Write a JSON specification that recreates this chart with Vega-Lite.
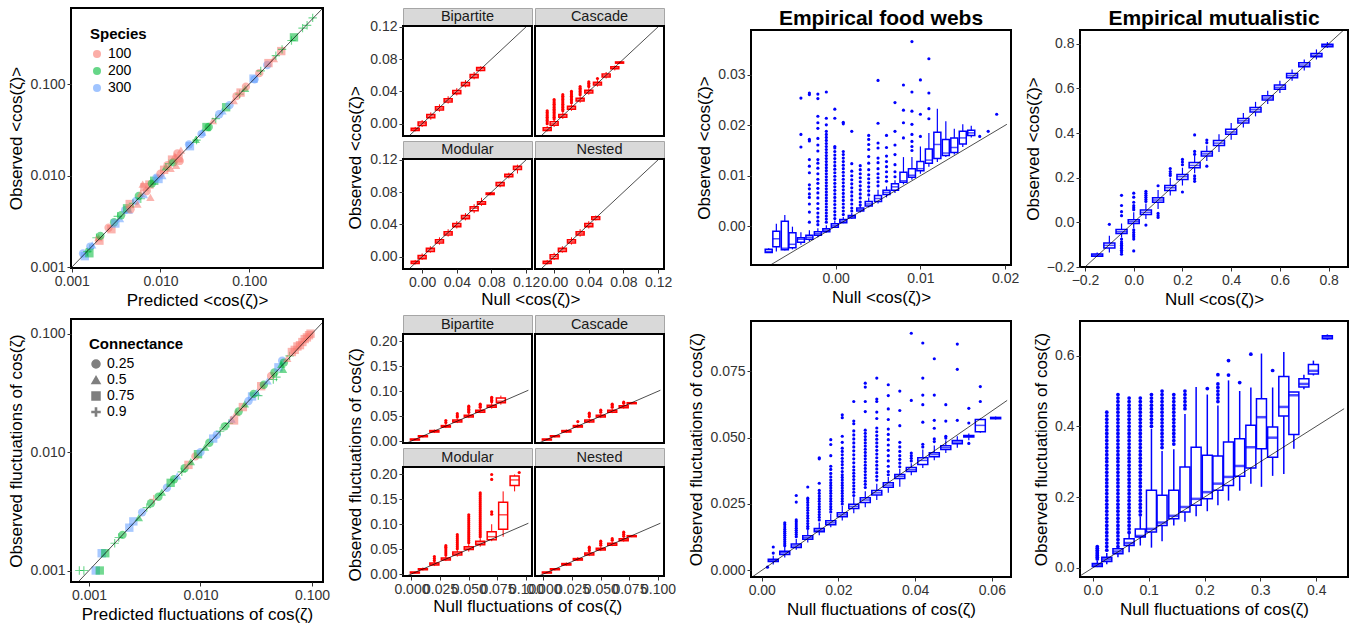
{
"$schema":"https://vega.github.io/schema/vega-lite/v6.json",
"background":"white",
"padding":{"left":6,"top":7,"right":2,"bottom":1},
"config":{
 "font":"Liberation Sans",
 "view":{"stroke":"black","strokeWidth":2},
 "axis":{"domain":false,"grid":false,"ticks":true,"tickColor":"#333333","tickSize":4,"tickWidth":1,"labelFontSize":14,"labelColor":"#333333","labelPadding":2,"titleFontSize":17,"titleFontWeight":"normal","titleColor":"black","titlePadding":4,"labelFlush":false,"labelOverlap":false,"labelBound":false},
 "legend":{"labelFontSize":14,"titleFontSize":15,"titleFontWeight":"bold","labelColor":"black","titleColor":"black"},
 "title":{"fontSize":21,"fontWeight":"bold","color":"black"}
},
"datasets":{
"diag":[{"g":"A","x":0.0009,"y":0.0009},{"g":"A","x":0.7,"y":0.7},{"g":"B","x":0.0006,"y":0.0006},{"g":"B","x":0.14,"y":0.14},{"g":"fT","x":-0.02,"y":-0.02},{"g":"fT","x":0.125,"y":0.125},{"g":"fB","x":-0.006,"y":-0.006},{"g":"fB","x":0.102,"y":0.102},{"g":"eT","x":-0.0095,"y":-0.0095},{"g":"eT","x":0.0202,"y":0.0202},{"g":"eB","x":-0.003,"y":-0.003},{"g":"eB","x":0.064,"y":0.064},{"g":"mT","x":-0.2,"y":-0.2},{"g":"mT","x":0.86,"y":0.86},{"g":"mB","x":-0.03,"y":-0.03},{"g":"mB","x":0.45,"y":0.45}],
"sA":[
{"x":0.00134,"y":0.00141,"s":"300","c":"0.25"},{"x":0.0014,"y":0.00132,"s":"300","c":"0.75"},{"x":0.0015,"y":0.00148,"s":"200","c":"0.9"},{"x":0.0016,"y":0.0016,"s":"200","c":"0.9"},{"x":0.00162,"y":0.00168,"s":"300","c":"0.25"},{"x":0.00158,"y":0.00142,"s":"200","c":"0.75"},{"x":0.0017,"y":0.00175,"s":"300","c":"0.5"},{"x":0.0019,"y":0.0021,"s":"200","c":"0.9"},{"x":0.002,"y":0.0021,"s":"100","c":"0.5"},{"x":0.00205,"y":0.00195,"s":"100","c":"0.75"},{"x":0.0021,"y":0.0022,"s":"200","c":"0.25"},{"x":0.0026,"y":0.0027,"s":"100","c":"0.25"},{"x":0.0028,"y":0.0026,"s":"100","c":"0.75"},{"x":0.003,"y":0.0031,"s":"200","c":"0.25"},{"x":0.0031,"y":0.003,"s":"300","c":"0.75"},{"x":0.0033,"y":0.0036,"s":"200","c":"0.9"},{"x":0.0035,"y":0.0034,"s":"300","c":"0.5"},{"x":0.0036,"y":0.0037,"s":"200","c":"0.25"},{"x":0.004,"y":0.0042,"s":"300","c":"0.25"},{"x":0.0042,"y":0.0044,"s":"200","c":"0.75"},{"x":0.0044,"y":0.0042,"s":"300","c":"0.5"},{"x":0.0046,"y":0.0043,"s":"100","c":"0.25"},{"x":0.0045,"y":0.0049,"s":"100","c":"0.75"},{"x":0.0049,"y":0.005,"s":"200","c":"0.9"},{"x":0.0053,"y":0.0053,"s":"300","c":"0.25"},{"x":0.0055,"y":0.0049,"s":"100","c":"0.5"},{"x":0.0057,"y":0.006,"s":"200","c":"0.25"},{"x":0.006,"y":0.0064,"s":"100","c":"0.5"},{"x":0.0063,"y":0.0081,"s":"100","c":"0.5"},{"x":0.0066,"y":0.0075,"s":"100","c":"0.75"},{"x":0.006,"y":0.0056,"s":"200","c":"0.9"},{"x":0.0065,"y":0.0062,"s":"300","c":"0.5"},{"x":0.007,"y":0.0068,"s":"100","c":"0.25"},{"x":0.0077,"y":0.0058,"s":"100","c":"0.5"},{"x":0.0075,"y":0.008,"s":"100","c":"0.75"},{"x":0.008,"y":0.0082,"s":"200","c":"0.25"},{"x":0.0085,"y":0.0088,"s":"200","c":"0.75"},{"x":0.009,"y":0.0095,"s":"300","c":"0.25"},{"x":0.0095,"y":0.0092,"s":"300","c":"0.75"},{"x":0.01,"y":0.0105,"s":"100","c":"0.25"},{"x":0.0105,"y":0.01,"s":"300","c":"0.5"},{"x":0.011,"y":0.0116,"s":"100","c":"0.75"},{"x":0.0115,"y":0.0125,"s":"200","c":"0.5"},{"x":0.012,"y":0.013,"s":"100","c":"0.25"},{"x":0.0125,"y":0.0135,"s":"200","c":"0.9"},{"x":0.013,"y":0.012,"s":"100","c":"0.5"},{"x":0.0135,"y":0.015,"s":"100","c":"0.75"},{"x":0.014,"y":0.014,"s":"200","c":"0.25"},{"x":0.0145,"y":0.0165,"s":"100","c":"0.5"},{"x":0.0155,"y":0.0175,"s":"100","c":"0.25"},{"x":0.016,"y":0.0155,"s":"100","c":"0.75"},{"x":0.015,"y":0.013,"s":"100","c":"0.5"},{"x":0.017,"y":0.019,"s":"100","c":"0.5"},{"x":0.0165,"y":0.0145,"s":"100","c":"0.25"},{"x":0.021,"y":0.022,"s":"300","c":"0.25"},{"x":0.0215,"y":0.021,"s":"300","c":"0.75"},{"x":0.025,"y":0.025,"s":"200","c":"0.5"},{"x":0.0255,"y":0.0245,"s":"200","c":"0.9"},{"x":0.029,"y":0.0285,"s":"300","c":"0.25"},{"x":0.0295,"y":0.03,"s":"300","c":"0.5"},{"x":0.033,"y":0.034,"s":"200","c":"0.75"},{"x":0.035,"y":0.034,"s":"200","c":"0.25"},{"x":0.039,"y":0.04,"s":"100","c":"0.5"},{"x":0.042,"y":0.042,"s":"200","c":"0.9"},{"x":0.046,"y":0.047,"s":"300","c":"0.25"},{"x":0.05,"y":0.051,"s":"300","c":"0.5"},{"x":0.055,"y":0.056,"s":"200","c":"0.75"},{"x":0.06,"y":0.059,"s":"300","c":"0.25"},{"x":0.067,"y":0.066,"s":"100","c":"0.5"},{"x":0.072,"y":0.074,"s":"100","c":"0.25"},{"x":0.078,"y":0.078,"s":"200","c":"0.9"},{"x":0.08,"y":0.081,"s":"100","c":"0.75"},{"x":0.09,"y":0.09,"s":"200","c":"0.5"},{"x":0.092,"y":0.094,"s":"100","c":"0.25"},{"x":0.112,"y":0.115,"s":"300","c":"0.75"},{"x":0.115,"y":0.113,"s":"300","c":"0.25"},{"x":0.13,"y":0.132,"s":"100","c":"0.25"},{"x":0.135,"y":0.14,"s":"200","c":"0.9"},{"x":0.16,"y":0.162,"s":"300","c":"0.25"},{"x":0.165,"y":0.17,"s":"100","c":"0.75"},{"x":0.19,"y":0.19,"s":"100","c":"0.5"},{"x":0.2,"y":0.205,"s":"200","c":"0.9"},{"x":0.23,"y":0.23,"s":"100","c":"0.75"},{"x":0.235,"y":0.24,"s":"200","c":"0.9"},{"x":0.3,"y":0.3,"s":"200","c":"0.9"},{"x":0.32,"y":0.325,"s":"200","c":"0.75"},{"x":0.4,"y":0.41,"s":"200","c":"0.9"},{"x":0.45,"y":0.44,"s":"200","c":"0.9"},{"x":0.52,"y":0.53,"s":"200","c":"0.9"}],
"sB":[
{"x":0.00082,"y":0.001,"s":"200","c":"0.9"},{"x":0.0009,"y":0.001,"s":"200","c":"0.9"},{"x":0.00115,"y":0.001,"s":"300","c":"0.75"},{"x":0.00125,"y":0.001,"s":"200","c":"0.75"},{"x":0.0013,"y":0.0014,"s":"300","c":"0.75"},{"x":0.0014,"y":0.0014,"s":"200","c":"0.75"},{"x":0.0017,"y":0.0017,"s":"200","c":"0.9"},{"x":0.00185,"y":0.0019,"s":"200","c":"0.9"},{"x":0.002,"y":0.002,"s":"200","c":"0.25"},{"x":0.0023,"y":0.0023,"s":"300","c":"0.75"},{"x":0.0025,"y":0.0026,"s":"300","c":"0.75"},{"x":0.0028,"y":0.0028,"s":"200","c":"0.5"},{"x":0.003,"y":0.0031,"s":"300","c":"0.25"},{"x":0.0033,"y":0.0034,"s":"200","c":"0.9"},{"x":0.0036,"y":0.0037,"s":"200","c":"0.25"},{"x":0.0038,"y":0.004,"s":"100","c":"0.9"},{"x":0.0042,"y":0.0042,"s":"200","c":"0.25"},{"x":0.0045,"y":0.0046,"s":"200","c":"0.5"},{"x":0.005,"y":0.005,"s":"300","c":"0.25"},{"x":0.0054,"y":0.0055,"s":"200","c":"0.75"},{"x":0.0058,"y":0.0059,"s":"200","c":"0.25"},{"x":0.0062,"y":0.0063,"s":"300","c":"0.5"},{"x":0.0068,"y":0.0068,"s":"200","c":"0.9"},{"x":0.0072,"y":0.0073,"s":"200","c":"0.25"},{"x":0.0078,"y":0.0078,"s":"100","c":"0.75"},{"x":0.0082,"y":0.0083,"s":"200","c":"0.5"},{"x":0.009,"y":0.0092,"s":"100","c":"0.25"},{"x":0.0095,"y":0.0096,"s":"200","c":"0.75"},{"x":0.01,"y":0.01,"s":"300","c":"0.25"},{"x":0.011,"y":0.011,"s":"200","c":"0.5"},{"x":0.012,"y":0.012,"s":"200","c":"0.25"},{"x":0.013,"y":0.013,"s":"300","c":"0.75"},{"x":0.014,"y":0.014,"s":"300","c":"0.25"},{"x":0.015,"y":0.015,"s":"200","c":"0.9"},{"x":0.0165,"y":0.0165,"s":"200","c":"0.25"},{"x":0.018,"y":0.0175,"s":"200","c":"0.9"},{"x":0.019,"y":0.019,"s":"300","c":"0.5"},{"x":0.02,"y":0.0185,"s":"100","c":"0.75"},{"x":0.021,"y":0.0215,"s":"100","c":"0.5"},{"x":0.022,"y":0.022,"s":"200","c":"0.25"},{"x":0.024,"y":0.024,"s":"100","c":"0.75"},{"x":0.025,"y":0.0255,"s":"200","c":"0.5"},{"x":0.027,"y":0.027,"s":"300","c":"0.25"},{"x":0.029,"y":0.0295,"s":"300","c":"0.75"},{"x":0.03,"y":0.031,"s":"200","c":"0.25"},{"x":0.032,"y":0.032,"s":"300","c":"0.5"},{"x":0.033,"y":0.03,"s":"200","c":"0.9"},{"x":0.035,"y":0.036,"s":"100","c":"0.75"},{"x":0.037,"y":0.037,"s":"200","c":"0.25"},{"x":0.04,"y":0.04,"s":"300","c":"0.5"},{"x":0.043,"y":0.044,"s":"100","c":"0.25"},{"x":0.045,"y":0.041,"s":"200","c":"0.9"},{"x":0.048,"y":0.043,"s":"200","c":"0.9"},{"x":0.046,"y":0.047,"s":"200","c":"0.25"},{"x":0.05,"y":0.052,"s":"300","c":"0.75"},{"x":0.054,"y":0.059,"s":"300","c":"0.25"},{"x":0.053,"y":0.055,"s":"200","c":"0.5"},{"x":0.056,"y":0.057,"s":"200","c":"0.25"},{"x":0.055,"y":0.05,"s":"200","c":"0.5"},{"x":0.06,"y":0.062,"s":"100","c":"0.5"},{"x":0.063,"y":0.065,"s":"200","c":"0.9"},{"x":0.066,"y":0.07,"s":"100","c":"0.75"},{"x":0.07,"y":0.073,"s":"100","c":"0.75"},{"x":0.074,"y":0.078,"s":"100","c":"0.75"},{"x":0.078,"y":0.08,"s":"100","c":"0.75"},{"x":0.082,"y":0.085,"s":"100","c":"0.75"},{"x":0.086,"y":0.09,"s":"100","c":"0.75"},{"x":0.09,"y":0.093,"s":"100","c":"0.75"},{"x":0.094,"y":0.097,"s":"100","c":"0.75"},{"x":0.097,"y":0.1,"s":"100","c":"0.75"}],
"fTb":[
{"p":"B","x":-0.008,"lo":-0.0095,"q1":-0.0085,"md":-0.0068,"q3":-0.0055,"hi":-0.004},{"p":"B","x":0,"lo":-0.004,"q1":-0.0022,"md":0,"q3":0.0022,"hi":0.0045},{"p":"B","x":0.01,"lo":0.005,"q1":0.0075,"md":0.0095,"q3":0.0115,"hi":0.014},{"p":"B","x":0.02,"lo":0.015,"q1":0.017,"md":0.019,"q3":0.021,"hi":0.024},{"p":"B","x":0.03,"lo":0.025,"q1":0.027,"md":0.029,"q3":0.031,"hi":0.034},{"p":"B","x":0.04,"lo":0.035,"q1":0.037,"md":0.039,"q3":0.041,"hi":0.044},{"p":"B","x":0.05,"lo":0.045,"q1":0.047,"md":0.049,"q3":0.051,"hi":0.054},{"p":"B","x":0.06,"lo":0.055,"q1":0.057,"md":0.059,"q3":0.061,"hi":0.064},{"p":"B","x":0.0675,"lo":0.065,"q1":0.066,"md":0.068,"q3":0.0695,"hi":0.071},
{"p":"C","x":-0.008,"lo":-0.0095,"q1":-0.0085,"md":-0.007,"q3":-0.005,"hi":-0.003},{"p":"C","x":0,"lo":-0.004,"q1":-0.002,"md":0,"q3":0.0025,"hi":0.005},{"p":"C","x":0.01,"lo":0.006,"q1":0.008,"md":0.0095,"q3":0.0115,"hi":0.014},{"p":"C","x":0.02,"lo":0.016,"q1":0.018,"md":0.0195,"q3":0.0215,"hi":0.024},{"p":"C","x":0.03,"lo":0.026,"q1":0.028,"md":0.0295,"q3":0.0315,"hi":0.034},{"p":"C","x":0.04,"lo":0.036,"q1":0.038,"md":0.0395,"q3":0.0415,"hi":0.044},{"p":"C","x":0.05,"lo":0.046,"q1":0.048,"md":0.0495,"q3":0.0515,"hi":0.054},{"p":"C","x":0.06,"lo":0.056,"q1":0.058,"md":0.0595,"q3":0.0615,"hi":0.064},{"p":"C","x":0.07,"lo":0.066,"q1":0.068,"md":0.069,"q3":0.0705,"hi":0.072},{"p":"C","x":0.0755,"lo":0.074,"q1":0.075,"md":0.0755,"q3":0.0765,"hi":0.077},
{"p":"M","x":-0.008,"lo":-0.0095,"q1":-0.0085,"md":-0.0068,"q3":-0.0055,"hi":-0.004},{"p":"M","x":0,"lo":-0.004,"q1":-0.0025,"md":-0.0005,"q3":0.0015,"hi":0.004},{"p":"M","x":0.0095,"lo":0.005,"q1":0.0065,"md":0.0085,"q3":0.0105,"hi":0.013},{"p":"M","x":0.02,"lo":0.015,"q1":0.017,"md":0.019,"q3":0.021,"hi":0.024},{"p":"M","x":0.03,"lo":0.025,"q1":0.027,"md":0.029,"q3":0.031,"hi":0.034},{"p":"M","x":0.04,"lo":0.035,"q1":0.037,"md":0.039,"q3":0.041,"hi":0.044},{"p":"M","x":0.05,"lo":0.045,"q1":0.047,"md":0.049,"q3":0.051,"hi":0.054},{"p":"M","x":0.06,"lo":0.054,"q1":0.057,"md":0.06,"q3":0.062,"hi":0.065},{"p":"M","x":0.0685,"lo":0.063,"q1":0.065,"md":0.066,"q3":0.068,"hi":0.073},{"p":"M","x":0.0785,"lo":0.076,"q1":0.077,"md":0.078,"q3":0.079,"hi":0.08},{"p":"M","x":0.09,"lo":0.086,"q1":0.088,"md":0.09,"q3":0.092,"hi":0.093},{"p":"M","x":0.1,"lo":0.097,"q1":0.099,"md":0.1,"q3":0.102,"hi":0.104},{"p":"M","x":0.11,"lo":0.103,"q1":0.108,"md":0.11,"q3":0.112,"hi":0.114},
{"p":"N","x":-0.008,"lo":-0.0095,"q1":-0.0085,"md":-0.0068,"q3":-0.0055,"hi":-0.004},{"p":"N","x":0,"lo":-0.004,"q1":-0.0025,"md":0,"q3":0.0025,"hi":0.005},{"p":"N","x":0.0095,"lo":0.005,"q1":0.0065,"md":0.0085,"q3":0.0105,"hi":0.013},{"p":"N","x":0.02,"lo":0.015,"q1":0.017,"md":0.019,"q3":0.021,"hi":0.024},{"p":"N","x":0.03,"lo":0.025,"q1":0.027,"md":0.029,"q3":0.031,"hi":0.034},{"p":"N","x":0.04,"lo":0.035,"q1":0.037,"md":0.039,"q3":0.041,"hi":0.044},{"p":"N","x":0.048,"lo":0.045,"q1":0.046,"md":0.048,"q3":0.0495,"hi":0.051}],
"fTo":[
{"p":"C","x":-0.008,"y":0},{"p":"C","x":-0.008,"y":0.002},{"p":"C","x":-0.008,"y":0.004},{"p":"C","x":-0.008,"y":0.006},{"p":"C","x":-0.008,"y":0.008},{"p":"C","x":-0.008,"y":0.01},{"p":"C","x":-0.008,"y":0.012},{"p":"C","x":-0.008,"y":0.014},{"p":"C","x":-0.008,"y":0.016},
{"p":"C","x":0,"y":0.006},{"p":"C","x":0,"y":0.008},{"p":"C","x":0,"y":0.01},{"p":"C","x":0,"y":0.012},{"p":"C","x":0,"y":0.014},{"p":"C","x":0,"y":0.016},{"p":"C","x":0,"y":0.018},{"p":"C","x":0,"y":0.02},{"p":"C","x":0,"y":0.022},{"p":"C","x":0,"y":0.024},{"p":"C","x":0,"y":0.026},{"p":"C","x":0,"y":0.028},{"p":"C","x":0,"y":0.03},
{"p":"C","x":0.01,"y":0.016},{"p":"C","x":0.01,"y":0.018},{"p":"C","x":0.01,"y":0.02},{"p":"C","x":0.01,"y":0.022},{"p":"C","x":0.01,"y":0.024},{"p":"C","x":0.01,"y":0.026},{"p":"C","x":0.01,"y":0.028},{"p":"C","x":0.01,"y":0.03},{"p":"C","x":0.01,"y":0.032},{"p":"C","x":0.01,"y":0.034},{"p":"C","x":0.01,"y":0.036},
{"p":"C","x":0.02,"y":0.026},{"p":"C","x":0.02,"y":0.028},{"p":"C","x":0.02,"y":0.03},{"p":"C","x":0.02,"y":0.032},{"p":"C","x":0.02,"y":0.034},{"p":"C","x":0.02,"y":0.036},{"p":"C","x":0.02,"y":0.038},{"p":"C","x":0.02,"y":0.04},
{"p":"C","x":0.03,"y":0.036},{"p":"C","x":0.03,"y":0.038},{"p":"C","x":0.03,"y":0.04},{"p":"C","x":0.03,"y":0.042},{"p":"C","x":0.03,"y":0.044},{"p":"C","x":0.03,"y":0.046},
{"p":"C","x":0.04,"y":0.046},{"p":"C","x":0.04,"y":0.048},{"p":"C","x":0.04,"y":0.05},{"p":"C","x":0.04,"y":0.052},{"p":"C","x":0.05,"y":0.056}],
"fBb":[
{"p":"B","x":0.003,"lo":0.001,"q1":0.002,"md":0.003,"q3":0.004,"hi":0.005},{"p":"B","x":0.01,"lo":0.007,"q1":0.0085,"md":0.0095,"q3":0.0105,"hi":0.012},{"p":"B","x":0.02,"lo":0.016,"q1":0.018,"md":0.02,"q3":0.021,"hi":0.023},{"p":"B","x":0.03,"lo":0.026,"q1":0.028,"md":0.03,"q3":0.031,"hi":0.034},{"p":"B","x":0.04,"lo":0.036,"q1":0.038,"md":0.04,"q3":0.042,"hi":0.045},{"p":"B","x":0.05,"lo":0.046,"q1":0.048,"md":0.05,"q3":0.052,"hi":0.056},{"p":"B","x":0.06,"lo":0.056,"q1":0.058,"md":0.06,"q3":0.062,"hi":0.066},{"p":"B","x":0.07,"lo":0.065,"q1":0.068,"md":0.07,"q3":0.072,"hi":0.077},{"p":"B","x":0.078,"lo":0.073,"q1":0.0767,"md":0.08,"q3":0.0866,"hi":0.0913},
{"p":"C","x":0.003,"lo":0.001,"q1":0.002,"md":0.003,"q3":0.004,"hi":0.005},{"p":"C","x":0.01,"lo":0.007,"q1":0.0085,"md":0.0095,"q3":0.0105,"hi":0.012},{"p":"C","x":0.02,"lo":0.016,"q1":0.018,"md":0.02,"q3":0.021,"hi":0.023},{"p":"C","x":0.03,"lo":0.026,"q1":0.028,"md":0.03,"q3":0.031,"hi":0.034},{"p":"C","x":0.04,"lo":0.036,"q1":0.038,"md":0.04,"q3":0.042,"hi":0.045},{"p":"C","x":0.05,"lo":0.046,"q1":0.048,"md":0.05,"q3":0.052,"hi":0.055},{"p":"C","x":0.06,"lo":0.056,"q1":0.058,"md":0.06,"q3":0.062,"hi":0.065},{"p":"C","x":0.07,"lo":0.065,"q1":0.067,"md":0.069,"q3":0.071,"hi":0.074},{"p":"C","x":0.077,"lo":0.074,"q1":0.075,"md":0.076,"q3":0.077,"hi":0.078},
{"p":"M","x":0.003,"lo":0.001,"q1":0.002,"md":0.003,"q3":0.004,"hi":0.005},{"p":"M","x":0.01,"lo":0.007,"q1":0.0085,"md":0.0095,"q3":0.0105,"hi":0.013},{"p":"M","x":0.02,"lo":0.016,"q1":0.018,"md":0.02,"q3":0.022,"hi":0.025},{"p":"M","x":0.03,"lo":0.026,"q1":0.028,"md":0.03,"q3":0.032,"hi":0.036},{"p":"M","x":0.04,"lo":0.035,"q1":0.038,"md":0.041,"q3":0.044,"hi":0.048},{"p":"M","x":0.05,"lo":0.045,"q1":0.049,"md":0.052,"q3":0.055,"hi":0.06},{"p":"M","x":0.06,"lo":0.055,"q1":0.059,"md":0.062,"q3":0.066,"hi":0.072},{"p":"M","x":0.07,"lo":0.066,"q1":0.069,"md":0.075,"q3":0.085,"hi":0.1},{"p":"M","x":0.08,"lo":0.075,"q1":0.09,"md":0.119,"q3":0.144,"hi":0.166},{"p":"M","x":0.09,"lo":0.166,"q1":0.178,"md":0.189,"q3":0.197,"hi":0.2},
{"p":"N","x":0.003,"lo":0.001,"q1":0.002,"md":0.003,"q3":0.004,"hi":0.005},{"p":"N","x":0.01,"lo":0.007,"q1":0.0085,"md":0.0095,"q3":0.0105,"hi":0.012},{"p":"N","x":0.02,"lo":0.016,"q1":0.018,"md":0.02,"q3":0.021,"hi":0.023},{"p":"N","x":0.03,"lo":0.026,"q1":0.028,"md":0.03,"q3":0.031,"hi":0.034},{"p":"N","x":0.04,"lo":0.036,"q1":0.038,"md":0.04,"q3":0.042,"hi":0.045},{"p":"N","x":0.05,"lo":0.046,"q1":0.048,"md":0.05,"q3":0.052,"hi":0.055},{"p":"N","x":0.06,"lo":0.056,"q1":0.058,"md":0.06,"q3":0.062,"hi":0.065},{"p":"N","x":0.07,"lo":0.065,"q1":0.067,"md":0.069,"q3":0.071,"hi":0.074},{"p":"N","x":0.077,"lo":0.074,"q1":0.075,"md":0.076,"q3":0.077,"hi":0.078}],
"fBo":[
{"p":"B","x":0.03,"y":0.037},{"p":"B","x":0.03,"y":0.041},{"p":"B","x":0.04,"y":0.048},{"p":"B","x":0.04,"y":0.051},{"p":"B","x":0.04,"y":0.055},{"p":"B","x":0.05,"y":0.058},{"p":"B","x":0.05,"y":0.061},{"p":"B","x":0.05,"y":0.064},{"p":"B","x":0.05,"y":0.067},{"p":"B","x":0.05,"y":0.07},{"p":"B","x":0.06,"y":0.068},{"p":"B","x":0.06,"y":0.071},{"p":"B","x":0.06,"y":0.074},{"p":"B","x":0.07,"y":0.079},{"p":"B","x":0.07,"y":0.082},{"p":"B","x":0.07,"y":0.085},{"p":"B","x":0.07,"y":0.088},
{"p":"C","x":0.03,"y":0.039},{"p":"C","x":0.04,"y":0.049},{"p":"C","x":0.04,"y":0.053},{"p":"C","x":0.04,"y":0.056},{"p":"C","x":0.05,"y":0.058},{"p":"C","x":0.05,"y":0.062},{"p":"C","x":0.06,"y":0.068},{"p":"C","x":0.06,"y":0.071},{"p":"C","x":0.06,"y":0.074},{"p":"C","x":0.07,"y":0.076},{"p":"C","x":0.07,"y":0.078},
{"p":"M","x":0.02,"y":0.027},{"p":"M","x":0.02,"y":0.031},{"p":"M","x":0.02,"y":0.035},{"p":"M","x":0.03,"y":0.038},{"p":"M","x":0.03,"y":0.042},{"p":"M","x":0.03,"y":0.046},{"p":"M","x":0.03,"y":0.05},{"p":"M","x":0.03,"y":0.054},{"p":"M","x":0.03,"y":0.057},
{"p":"M","x":0.04,"y":0.051},{"p":"M","x":0.04,"y":0.055},{"p":"M","x":0.04,"y":0.059},{"p":"M","x":0.04,"y":0.063},{"p":"M","x":0.04,"y":0.067},{"p":"M","x":0.04,"y":0.071},{"p":"M","x":0.04,"y":0.075},{"p":"M","x":0.04,"y":0.079},
{"p":"M","x":0.05,"y":0.063},{"p":"M","x":0.05,"y":0.067},{"p":"M","x":0.05,"y":0.071},{"p":"M","x":0.05,"y":0.075},{"p":"M","x":0.05,"y":0.079},{"p":"M","x":0.05,"y":0.083},{"p":"M","x":0.05,"y":0.087},{"p":"M","x":0.05,"y":0.091},{"p":"M","x":0.05,"y":0.095},{"p":"M","x":0.05,"y":0.099},{"p":"M","x":0.05,"y":0.103},{"p":"M","x":0.05,"y":0.107},{"p":"M","x":0.05,"y":0.111},{"p":"M","x":0.05,"y":0.115},{"p":"M","x":0.05,"y":0.119},
{"p":"M","x":0.06,"y":0.075},{"p":"M","x":0.06,"y":0.079},{"p":"M","x":0.06,"y":0.083},{"p":"M","x":0.06,"y":0.087},{"p":"M","x":0.06,"y":0.091},{"p":"M","x":0.06,"y":0.095},{"p":"M","x":0.06,"y":0.099},{"p":"M","x":0.06,"y":0.103},{"p":"M","x":0.06,"y":0.107},{"p":"M","x":0.06,"y":0.111},{"p":"M","x":0.06,"y":0.115},{"p":"M","x":0.06,"y":0.119},{"p":"M","x":0.06,"y":0.123},{"p":"M","x":0.06,"y":0.127},{"p":"M","x":0.06,"y":0.131},{"p":"M","x":0.06,"y":0.135},{"p":"M","x":0.06,"y":0.139},{"p":"M","x":0.06,"y":0.143},{"p":"M","x":0.06,"y":0.147},{"p":"M","x":0.06,"y":0.151},{"p":"M","x":0.06,"y":0.155},{"p":"M","x":0.06,"y":0.159},{"p":"M","x":0.06,"y":0.163},
{"p":"M","x":0.07,"y":0.12},{"p":"M","x":0.07,"y":0.125},{"p":"M","x":0.07,"y":0.19},{"p":"M","x":0.07,"y":0.2},{"p":"M","x":0.094,"y":0.204},
{"p":"N","x":0.04,"y":0.047},{"p":"N","x":0.04,"y":0.051},{"p":"N","x":0.04,"y":0.054},{"p":"N","x":0.05,"y":0.058},{"p":"N","x":0.05,"y":0.062},{"p":"N","x":0.05,"y":0.066},{"p":"N","x":0.06,"y":0.068},{"p":"N","x":0.06,"y":0.071},{"p":"N","x":0.07,"y":0.076},{"p":"N","x":0.07,"y":0.08},{"p":"N","x":0.07,"y":0.084}],
"eTb":[
{"x":-0.0079,"lo":-0.0053,"q1":-0.0052,"md":-0.005,"q3":-0.0046,"hi":-0.0044},{"x":-0.007,"lo":-0.005,"q1":-0.0041,"md":-0.0025,"q3":-0.001,"hi":0.0005},{"x":-0.006,"lo":-0.0048,"q1":-0.0047,"md":-0.0044,"q3":0.001,"hi":0.0022},{"x":-0.0051,"lo":-0.0046,"q1":-0.0043,"md":-0.0036,"q3":-0.0013,"hi":-0.0001},{"x":-0.0041,"lo":-0.0037,"q1":-0.0032,"md":-0.0026,"q3":-0.0023,"hi":-0.0012},{"x":-0.0031,"lo":-0.003,"q1":-0.0026,"md":-0.0022,"q3":-0.0018,"hi":-0.0008},{"x":-0.0021,"lo":-0.0022,"q1":-0.0018,"md":-0.0015,"q3":-0.0011,"hi":-0.0004},{"x":-0.0011,"lo":-0.0013,"q1":-0.0011,"md":-0.0008,"q3":-0.0005,"hi":0.0002},{"x":-0.0001,"lo":-0.0003,"q1":-0.0002,"md":0.0001,"q3":0.0005,"hi":0.0011},{"x":0.0009,"lo":0.0006,"q1":0.0007,"md":0.001,"q3":0.0013,"hi":0.0018},{"x":0.0019,"lo":0.0014,"q1":0.0016,"md":0.0019,"q3":0.0021,"hi":0.0026},{"x":0.0029,"lo":0.0027,"q1":0.003,"md":0.0033,"q3":0.0036,"hi":0.0042},{"x":0.0039,"lo":0.0037,"q1":0.004,"md":0.0044,"q3":0.0049,"hi":0.0057},{"x":0.005,"lo":0.0045,"q1":0.0049,"md":0.0055,"q3":0.0061,"hi":0.0072},{"x":0.006,"lo":0.0057,"q1":0.0063,"md":0.0067,"q3":0.0071,"hi":0.0079},{"x":0.007,"lo":0.0066,"q1":0.0071,"md":0.0078,"q3":0.0084,"hi":0.0091},{"x":0.008,"lo":0.0083,"q1":0.0087,"md":0.009,"q3":0.0107,"hi":0.0137},{"x":0.009,"lo":0.0092,"q1":0.0097,"md":0.0101,"q3":0.0114,"hi":0.0137},{"x":0.01,"lo":0.0104,"q1":0.011,"md":0.0114,"q3":0.0128,"hi":0.0158},{"x":0.011,"lo":0.0118,"q1":0.0125,"md":0.0131,"q3":0.0153,"hi":0.0185},{"x":0.012,"lo":0.0127,"q1":0.0134,"md":0.0162,"q3":0.0186,"hi":0.0233},{"x":0.013,"lo":0.0137,"q1":0.014,"md":0.0145,"q3":0.0172,"hi":0.0208},{"x":0.014,"lo":0.0142,"q1":0.0146,"md":0.0156,"q3":0.0175,"hi":0.0193},{"x":0.015,"lo":0.0157,"q1":0.0163,"md":0.0175,"q3":0.0188,"hi":0.0202},{"x":0.016,"lo":0.0176,"q1":0.018,"md":0.0185,"q3":0.019,"hi":0.0199}],
"eTo":[
{"x":-0.0041,"y":0.0254},{"x":-0.0041,"y":0.0182},{"x":-0.0041,"y":0.0157},
{"x":-0.0031,"y":0.0264},{"x":-0.0031,"y":0.0261},{"x":-0.0031,"y":0.0172},{"x":-0.0031,"y":0.0169},{"x":-0.0031,"y":0.0132},{"x":-0.0031,"y":0.0119},{"x":-0.0031,"y":0.0106},{"x":-0.0031,"y":0.0082},{"x":-0.0031,"y":0.0074},{"x":-0.0031,"y":0.0064},{"x":-0.0031,"y":0.0057},{"x":-0.0031,"y":0.0044},{"x":-0.0031,"y":0.0028},{"x":-0.0031,"y":0.0008},
{"x":-0.0021,"y":0.0262},{"x":-0.0021,"y":0.0253},{"x":-0.0021,"y":0.0218},{"x":-0.0021,"y":0.0205},{"x":-0.0021,"y":0.0194},{"x":-0.0021,"y":0.0174},{"x":-0.0021,"y":0.0161},{"x":-0.0021,"y":0.0149},{"x":-0.0021,"y":0.0132},{"x":-0.0021,"y":0.0125},{"x":-0.0021,"y":0.0115},{"x":-0.0021,"y":0.0104},{"x":-0.0021,"y":0.0093},{"x":-0.0021,"y":0.0085},{"x":-0.0021,"y":0.0075},{"x":-0.0021,"y":0.0066},{"x":-0.0021,"y":0.0056},{"x":-0.0021,"y":0.0045},{"x":-0.0021,"y":0.0035},{"x":-0.0021,"y":0.0026},{"x":-0.0021,"y":0.0018},{"x":-0.0021,"y":0.001},{"x":-0.0021,"y":0.0003},
{"x":-0.0011,"y":0.0266},{"x":-0.0011,"y":0.0214},{"x":-0.0011,"y":0.0201},{"x":-0.0011,"y":0.0188},{"x":-0.0011,"y":0.0182},{"x":-0.0011,"y":0.0176},{"x":-0.0011,"y":0.017},{"x":-0.0011,"y":0.0164},{"x":-0.0011,"y":0.0158},{"x":-0.0011,"y":0.0152},{"x":-0.0011,"y":0.0146},{"x":-0.0011,"y":0.014},{"x":-0.0011,"y":0.0134},{"x":-0.0011,"y":0.0128},{"x":-0.0011,"y":0.0122},{"x":-0.0011,"y":0.0116},{"x":-0.0011,"y":0.011},{"x":-0.0011,"y":0.0104},{"x":-0.0011,"y":0.0098},{"x":-0.0011,"y":0.0092},{"x":-0.0011,"y":0.0086},{"x":-0.0011,"y":0.008},{"x":-0.0011,"y":0.0074},{"x":-0.0011,"y":0.0068},{"x":-0.0011,"y":0.0062},{"x":-0.0011,"y":0.0056},{"x":-0.0011,"y":0.005},{"x":-0.0011,"y":0.0044},{"x":-0.0011,"y":0.0038},{"x":-0.0011,"y":0.0032},{"x":-0.0011,"y":0.0026},{"x":-0.0011,"y":0.002},{"x":-0.0011,"y":0.0014},{"x":-0.0011,"y":0.0008},
{"x":-0.0001,"y":0.0232},{"x":-0.0001,"y":0.0214},{"x":-0.0001,"y":0.0158},{"x":-0.0001,"y":0.0155},{"x":-0.0001,"y":0.0148},{"x":-0.0001,"y":0.0141},{"x":-0.0001,"y":0.0134},{"x":-0.0001,"y":0.0127},{"x":-0.0001,"y":0.012},{"x":-0.0001,"y":0.0113},{"x":-0.0001,"y":0.0106},{"x":-0.0001,"y":0.0099},{"x":-0.0001,"y":0.0092},{"x":-0.0001,"y":0.0085},{"x":-0.0001,"y":0.0078},{"x":-0.0001,"y":0.0071},{"x":-0.0001,"y":0.0064},{"x":-0.0001,"y":0.0057},{"x":-0.0001,"y":0.005},{"x":-0.0001,"y":0.0043},{"x":-0.0001,"y":0.0036},{"x":-0.0001,"y":0.0029},{"x":-0.0001,"y":0.0022},{"x":-0.0001,"y":0.0015},
{"x":0.0009,"y":0.0206},{"x":0.0009,"y":0.0203},{"x":0.0009,"y":0.0148},{"x":0.0009,"y":0.0142},{"x":0.0009,"y":0.0135},{"x":0.0009,"y":0.0128},{"x":0.0009,"y":0.0121},{"x":0.0009,"y":0.0114},{"x":0.0009,"y":0.0107},{"x":0.0009,"y":0.01},{"x":0.0009,"y":0.0093},{"x":0.0009,"y":0.0086},{"x":0.0009,"y":0.0079},{"x":0.0009,"y":0.0072},{"x":0.0009,"y":0.0065},{"x":0.0009,"y":0.0058},{"x":0.0009,"y":0.0051},{"x":0.0009,"y":0.0044},{"x":0.0009,"y":0.0037},{"x":0.0009,"y":0.003},{"x":0.0009,"y":0.0023},
{"x":0.0019,"y":0.0188},{"x":0.0019,"y":0.0124},{"x":0.0019,"y":0.0109},{"x":0.0019,"y":0.01},{"x":0.0019,"y":0.0092},{"x":0.0019,"y":0.0084},{"x":0.0019,"y":0.0076},{"x":0.0019,"y":0.0068},{"x":0.0019,"y":0.006},{"x":0.0019,"y":0.0052},{"x":0.0019,"y":0.0044},{"x":0.0019,"y":0.0036},{"x":0.0019,"y":0.003},
{"x":0.0029,"y":0.012},{"x":0.0029,"y":0.0112},{"x":0.0029,"y":0.0104},{"x":0.0029,"y":0.0096},{"x":0.0029,"y":0.0088},{"x":0.0029,"y":0.008},{"x":0.0029,"y":0.0072},{"x":0.0029,"y":0.0064},{"x":0.0029,"y":0.0056},{"x":0.0029,"y":0.0048},{"x":0.0029,"y":0.0042},
{"x":0.0039,"y":0.018},{"x":0.0039,"y":0.0172},{"x":0.0039,"y":0.0162},{"x":0.0039,"y":0.0152},{"x":0.0039,"y":0.0138},{"x":0.0039,"y":0.0125},{"x":0.0039,"y":0.0112},{"x":0.0039,"y":0.0102},{"x":0.0039,"y":0.0094},{"x":0.0039,"y":0.0086},{"x":0.0039,"y":0.0078},{"x":0.0039,"y":0.007},{"x":0.0039,"y":0.0062},
{"x":0.005,"y":0.0289},{"x":0.005,"y":0.0204},{"x":0.005,"y":0.0165},{"x":0.005,"y":0.0155},{"x":0.005,"y":0.0135},{"x":0.005,"y":0.0126},{"x":0.005,"y":0.0114},{"x":0.005,"y":0.0104},{"x":0.005,"y":0.0096},{"x":0.005,"y":0.0088},{"x":0.005,"y":0.008},
{"x":0.006,"y":0.018},{"x":0.006,"y":0.0156},{"x":0.006,"y":0.0139},{"x":0.006,"y":0.0128},{"x":0.006,"y":0.0118},{"x":0.006,"y":0.0108},{"x":0.006,"y":0.0098},{"x":0.006,"y":0.0089},
{"x":0.007,"y":0.0245},{"x":0.007,"y":0.0188},{"x":0.007,"y":0.0161},{"x":0.007,"y":0.0142},{"x":0.007,"y":0.0122},{"x":0.007,"y":0.0108},{"x":0.007,"y":0.0098},
{"x":0.008,"y":0.028},{"x":0.008,"y":0.023},{"x":0.008,"y":0.0205},{"x":0.008,"y":0.0175},
{"x":0.009,"y":0.0366},{"x":0.009,"y":0.0266},{"x":0.009,"y":0.0228},{"x":0.009,"y":0.0202},{"x":0.009,"y":0.0182},{"x":0.009,"y":0.0168},{"x":0.009,"y":0.0158},{"x":0.009,"y":0.015},
{"x":0.01,"y":0.029},{"x":0.01,"y":0.0222},{"x":0.01,"y":0.0178},{"x":0.011,"y":0.0332},{"x":0.011,"y":0.0264},{"x":0.011,"y":0.0233},{"x":0.011,"y":0.0213},
{"x":0.017,"y":0.0178},{"x":0.018,"y":0.0188},{"x":0.019,"y":0.0222}],
"eBb":[
{"x":0.003,"lo":0.0022,"q1":0.0033,"md":0.0037,"q3":0.0042,"hi":0.0055},{"x":0.006,"lo":0.0048,"q1":0.006,"md":0.0066,"q3":0.0072,"hi":0.0088},{"x":0.009,"lo":0.0078,"q1":0.0086,"md":0.0092,"q3":0.0099,"hi":0.0118},{"x":0.012,"lo":0.0105,"q1":0.0117,"md":0.0123,"q3":0.013,"hi":0.0152},{"x":0.015,"lo":0.0132,"q1":0.0145,"md":0.0151,"q3":0.0158,"hi":0.018},{"x":0.018,"lo":0.0162,"q1":0.0172,"md":0.0179,"q3":0.0187,"hi":0.0212},{"x":0.021,"lo":0.0188,"q1":0.0202,"md":0.0209,"q3":0.0217,"hi":0.0242},{"x":0.024,"lo":0.0215,"q1":0.0233,"md":0.0241,"q3":0.0249,"hi":0.0275},{"x":0.027,"lo":0.0238,"q1":0.0256,"md":0.0265,"q3":0.0273,"hi":0.0298},{"x":0.03,"lo":0.0265,"q1":0.0284,"md":0.0292,"q3":0.0301,"hi":0.0326},{"x":0.033,"lo":0.0292,"q1":0.0313,"md":0.0321,"q3":0.033,"hi":0.0352},{"x":0.036,"lo":0.0315,"q1":0.0346,"md":0.0354,"q3":0.0361,"hi":0.0382},{"x":0.039,"lo":0.0358,"q1":0.0372,"md":0.0379,"q3":0.0387,"hi":0.0403},{"x":0.042,"lo":0.0385,"q1":0.0399,"md":0.0414,"q3":0.0424,"hi":0.0455},{"x":0.045,"lo":0.0415,"q1":0.0428,"md":0.0436,"q3":0.0443,"hi":0.047},{"x":0.048,"lo":0.0442,"q1":0.0455,"md":0.0462,"q3":0.0469,"hi":0.049},{"x":0.051,"lo":0.0462,"q1":0.0477,"md":0.0483,"q3":0.0489,"hi":0.0505},{"x":0.054,"lo":0.049,"q1":0.0502,"md":0.0505,"q3":0.0508,"hi":0.0515},{"x":0.057,"lo":0.0518,"q1":0.0522,"md":0.0546,"q3":0.0568,"hi":0.0572},{"x":0.061,"lo":0.0568,"q1":0.0571,"md":0.0573,"q3":0.0576,"hi":0.0579}],
"eBo":[
{"x":0.0015,"y":0.0012},{"x":0.003,"y":0.0088},{"x":0.003,"y":0.0065},
{"x":0.006,"y":0.0179},{"x":0.006,"y":0.0172},{"x":0.006,"y":0.0163},{"x":0.006,"y":0.0155},{"x":0.006,"y":0.0147},{"x":0.006,"y":0.014},{"x":0.006,"y":0.0132},{"x":0.006,"y":0.0124},{"x":0.006,"y":0.0116},{"x":0.006,"y":0.0108},{"x":0.006,"y":0.01},{"x":0.006,"y":0.0093},
{"x":0.009,"y":0.0282},{"x":0.009,"y":0.0257},{"x":0.009,"y":0.019},{"x":0.009,"y":0.0183},{"x":0.009,"y":0.0175},{"x":0.009,"y":0.0167},{"x":0.009,"y":0.0159},{"x":0.009,"y":0.0151},{"x":0.009,"y":0.0143},{"x":0.009,"y":0.0135},{"x":0.009,"y":0.0127},
{"x":0.012,"y":0.0314},{"x":0.012,"y":0.0272},{"x":0.012,"y":0.0265},{"x":0.012,"y":0.0256},{"x":0.012,"y":0.0246},{"x":0.012,"y":0.0236},{"x":0.012,"y":0.0226},{"x":0.012,"y":0.0216},{"x":0.012,"y":0.0206},{"x":0.012,"y":0.0196},{"x":0.012,"y":0.0186},{"x":0.012,"y":0.0176},{"x":0.012,"y":0.0166},{"x":0.012,"y":0.0158},
{"x":0.015,"y":0.0424},{"x":0.015,"y":0.042},{"x":0.015,"y":0.0328},{"x":0.015,"y":0.0301},{"x":0.015,"y":0.029},{"x":0.015,"y":0.028},{"x":0.015,"y":0.027},{"x":0.015,"y":0.026},{"x":0.015,"y":0.025},{"x":0.015,"y":0.024},{"x":0.015,"y":0.023},{"x":0.015,"y":0.022},{"x":0.015,"y":0.021},{"x":0.015,"y":0.02},{"x":0.015,"y":0.019},
{"x":0.018,"y":0.0492},{"x":0.018,"y":0.0474},{"x":0.018,"y":0.0432},{"x":0.018,"y":0.0392},{"x":0.018,"y":0.038},{"x":0.018,"y":0.0365},{"x":0.018,"y":0.0352},{"x":0.018,"y":0.034},{"x":0.018,"y":0.033},{"x":0.018,"y":0.032},{"x":0.018,"y":0.031},{"x":0.018,"y":0.03},{"x":0.018,"y":0.029},{"x":0.018,"y":0.028},{"x":0.018,"y":0.027},{"x":0.018,"y":0.026},{"x":0.018,"y":0.025},{"x":0.018,"y":0.024},{"x":0.018,"y":0.023},{"x":0.018,"y":0.022},
{"x":0.021,"y":0.0586},{"x":0.021,"y":0.0575},{"x":0.021,"y":0.0505},{"x":0.021,"y":0.0482},{"x":0.021,"y":0.046},{"x":0.021,"y":0.0448},{"x":0.021,"y":0.0435},{"x":0.021,"y":0.0422},{"x":0.021,"y":0.041},{"x":0.021,"y":0.0398},{"x":0.021,"y":0.0385},{"x":0.021,"y":0.0372},{"x":0.021,"y":0.036},{"x":0.021,"y":0.035},{"x":0.021,"y":0.034},{"x":0.021,"y":0.033},{"x":0.021,"y":0.032},{"x":0.021,"y":0.031},{"x":0.021,"y":0.03},{"x":0.021,"y":0.029},{"x":0.021,"y":0.028},{"x":0.021,"y":0.027},{"x":0.021,"y":0.026},{"x":0.021,"y":0.025},
{"x":0.024,"y":0.0636},{"x":0.024,"y":0.0562},{"x":0.024,"y":0.0552},{"x":0.024,"y":0.0525},{"x":0.024,"y":0.051},{"x":0.024,"y":0.0495},{"x":0.024,"y":0.048},{"x":0.024,"y":0.0465},{"x":0.024,"y":0.045},{"x":0.024,"y":0.0435},{"x":0.024,"y":0.042},{"x":0.024,"y":0.0405},{"x":0.024,"y":0.039},{"x":0.024,"y":0.0378},{"x":0.024,"y":0.0366},{"x":0.024,"y":0.0354},{"x":0.024,"y":0.0342},{"x":0.024,"y":0.033},{"x":0.024,"y":0.0318},{"x":0.024,"y":0.0306},{"x":0.024,"y":0.0294},{"x":0.024,"y":0.0282},
{"x":0.027,"y":0.0705},{"x":0.027,"y":0.069},{"x":0.027,"y":0.0636},{"x":0.027,"y":0.0598},{"x":0.027,"y":0.0528},{"x":0.027,"y":0.0516},{"x":0.027,"y":0.0504},{"x":0.027,"y":0.0492},{"x":0.027,"y":0.048},{"x":0.027,"y":0.0468},{"x":0.027,"y":0.0456},{"x":0.027,"y":0.0444},{"x":0.027,"y":0.0432},{"x":0.027,"y":0.042},{"x":0.027,"y":0.0408},{"x":0.027,"y":0.0396},{"x":0.027,"y":0.0384},{"x":0.027,"y":0.0372},{"x":0.027,"y":0.036},{"x":0.027,"y":0.0348},{"x":0.027,"y":0.0336},{"x":0.027,"y":0.0324},{"x":0.027,"y":0.0312},
{"x":0.03,"y":0.0724},{"x":0.03,"y":0.0645},{"x":0.03,"y":0.0636},{"x":0.03,"y":0.0596},{"x":0.03,"y":0.0572},{"x":0.03,"y":0.0536},{"x":0.03,"y":0.0522},{"x":0.03,"y":0.0508},{"x":0.03,"y":0.0494},{"x":0.03,"y":0.048},{"x":0.03,"y":0.0466},{"x":0.03,"y":0.0452},{"x":0.03,"y":0.0438},{"x":0.03,"y":0.0424},{"x":0.03,"y":0.041},{"x":0.03,"y":0.0396},{"x":0.03,"y":0.0382},{"x":0.03,"y":0.0368},{"x":0.03,"y":0.0354},{"x":0.03,"y":0.034},
{"x":0.033,"y":0.0699},{"x":0.033,"y":0.0658},{"x":0.033,"y":0.0608},{"x":0.033,"y":0.0568},{"x":0.033,"y":0.0532},{"x":0.033,"y":0.0512},{"x":0.033,"y":0.0492},{"x":0.033,"y":0.0472},{"x":0.033,"y":0.0452},{"x":0.033,"y":0.0432},{"x":0.033,"y":0.0412},{"x":0.033,"y":0.0392},{"x":0.033,"y":0.0372},{"x":0.033,"y":0.036},
{"x":0.036,"y":0.0675},{"x":0.036,"y":0.0602},{"x":0.036,"y":0.0545},{"x":0.036,"y":0.0482},{"x":0.036,"y":0.0465},{"x":0.036,"y":0.0448},{"x":0.036,"y":0.0432},{"x":0.036,"y":0.0418},{"x":0.036,"y":0.0404},{"x":0.036,"y":0.039},
{"x":0.039,"y":0.0893},{"x":0.039,"y":0.064},{"x":0.039,"y":0.0442},{"x":0.039,"y":0.0432},{"x":0.039,"y":0.0422},{"x":0.039,"y":0.0412},
{"x":0.042,"y":0.0856},{"x":0.042,"y":0.0724},{"x":0.042,"y":0.066},{"x":0.042,"y":0.0624},{"x":0.042,"y":0.0558},{"x":0.042,"y":0.0475},{"x":0.042,"y":0.0465},
{"x":0.045,"y":0.0797},{"x":0.045,"y":0.066},{"x":0.045,"y":0.0565},{"x":0.045,"y":0.0535},{"x":0.045,"y":0.0495},{"x":0.045,"y":0.0485},
{"x":0.048,"y":0.0624},{"x":0.048,"y":0.0562},{"x":0.048,"y":0.0505},{"x":0.048,"y":0.0498},
{"x":0.051,"y":0.0852},{"x":0.051,"y":0.0757},{"x":0.051,"y":0.0565},{"x":0.054,"y":0.061},{"x":0.054,"y":0.0555},{"x":0.054,"y":0.0478},{"x":0.057,"y":0.0692},{"x":0.057,"y":0.0636}],
"mTb":[
{"x":-0.15,"lo":-0.155,"q1":-0.152,"md":-0.147,"q3":-0.142,"hi":-0.135},{"x":-0.1,"lo":-0.135,"q1":-0.115,"md":-0.103,"q3":-0.093,"hi":-0.06},{"x":-0.05,"lo":-0.068,"q1":-0.05,"md":-0.042,"q3":-0.032,"hi":-0.005},{"x":0,"lo":-0.025,"q1":-0.005,"md":0.003,"q3":0.012,"hi":0.045},{"x":0.05,"lo":0.015,"q1":0.035,"md":0.045,"q3":0.055,"hi":0.085},{"x":0.1,"lo":0.06,"q1":0.09,"md":0.1,"q3":0.11,"hi":0.145},{"x":0.15,"lo":0.12,"q1":0.143,"md":0.155,"q3":0.165,"hi":0.2},{"x":0.2,"lo":0.165,"q1":0.192,"md":0.205,"q3":0.215,"hi":0.245},{"x":0.25,"lo":0.22,"q1":0.245,"md":0.255,"q3":0.268,"hi":0.3},{"x":0.3,"lo":0.275,"q1":0.297,"md":0.307,"q3":0.318,"hi":0.345},{"x":0.35,"lo":0.315,"q1":0.345,"md":0.355,"q3":0.367,"hi":0.395},{"x":0.4,"lo":0.37,"q1":0.395,"md":0.405,"q3":0.417,"hi":0.445},{"x":0.45,"lo":0.425,"q1":0.445,"md":0.455,"q3":0.465,"hi":0.49},{"x":0.5,"lo":0.475,"q1":0.495,"md":0.505,"q3":0.515,"hi":0.54},{"x":0.55,"lo":0.53,"q1":0.548,"md":0.557,"q3":0.567,"hi":0.59},{"x":0.6,"lo":0.58,"q1":0.597,"md":0.605,"q3":0.615,"hi":0.635},{"x":0.65,"lo":0.635,"q1":0.648,"md":0.657,"q3":0.667,"hi":0.685},{"x":0.7,"lo":0.68,"q1":0.697,"md":0.705,"q3":0.715,"hi":0.73},{"x":0.75,"lo":0.73,"q1":0.742,"md":0.748,"q3":0.757,"hi":0.775},{"x":0.795,"lo":0.782,"q1":0.787,"md":0.792,"q3":0.798,"hi":0.808}],
"mTo":[
{"x":-0.1,"y":-0.0087},{"x":-0.05,"y":0.121},{"x":-0.05,"y":0.0756},{"x":-0.05,"y":0.048},{"x":-0.05,"y":0.03},{"x":-0.05,"y":-0.075},{"x":-0.05,"y":-0.087},{"x":-0.05,"y":-0.095},{"x":-0.05,"y":-0.102},{"x":-0.05,"y":-0.11},{"x":-0.05,"y":-0.117},{"x":-0.05,"y":-0.125},{"x":-0.05,"y":-0.133},{"x":-0.05,"y":-0.143},
{"x":0,"y":0.131},{"x":0,"y":0.113},{"x":0,"y":0.09},{"x":0,"y":0.075},{"x":0,"y":0.065},{"x":0,"y":0.057},{"x":0,"y":-0.034},{"x":0,"y":-0.045},{"x":0,"y":-0.055},{"x":0,"y":-0.064},{"x":0,"y":-0.075},{"x":0,"y":-0.128},
{"x":0.05,"y":0.139},{"x":0.05,"y":0.13},{"x":0.05,"y":0.121},{"x":0.05,"y":0.112},{"x":0.05,"y":0.103},{"x":0.05,"y":0.094},{"x":0.05,"y":-0.012},
{"x":0.1,"y":0.164},{"x":0.1,"y":0.04},{"x":0.1,"y":0.03},{"x":0.1,"y":0.022},{"x":0.15,"y":0.241},{"x":0.15,"y":0.228},{"x":0.15,"y":0.218},{"x":0.15,"y":0.21},{"x":0.2,"y":0.282},{"x":0.2,"y":0.27},{"x":0.2,"y":0.258},{"x":0.2,"y":0.136},{"x":0.25,"y":0.392},{"x":0.25,"y":0.318},{"x":0.25,"y":0.305},{"x":0.25,"y":0.208},{"x":0.25,"y":0.196},{"x":0.25,"y":0.184},{"x":0.3,"y":0.369},{"x":0.3,"y":0.357},{"x":0.3,"y":0.252}],
"mBb":[
{"x":0.008,"lo":0.002,"q1":0.004,"md":0.008,"q3":0.012,"hi":0.02},{"x":0.025,"lo":0.01,"q1":0.018,"md":0.024,"q3":0.03,"hi":0.042},{"x":0.045,"lo":0.03,"q1":0.04,"md":0.046,"q3":0.054,"hi":0.058},{"x":0.065,"lo":0.044,"q1":0.063,"md":0.07,"q3":0.082,"hi":0.098},{"x":0.085,"lo":0.063,"q1":0.087,"md":0.09,"q3":0.11,"hi":0.145},{"x":0.105,"lo":0.057,"q1":0.101,"md":0.11,"q3":0.219,"hi":0.393},{"x":0.124,"lo":0.075,"q1":0.12,"md":0.128,"q3":0.205,"hi":0.33},{"x":0.145,"lo":0.12,"q1":0.139,"md":0.147,"q3":0.219,"hi":0.335},{"x":0.165,"lo":0.13,"q1":0.158,"md":0.172,"q3":0.285,"hi":0.435},{"x":0.185,"lo":0.146,"q1":0.177,"md":0.195,"q3":0.341,"hi":0.511},{"x":0.205,"lo":0.16,"q1":0.195,"md":0.214,"q3":0.318,"hi":0.49},{"x":0.224,"lo":0.177,"q1":0.219,"md":0.238,"q3":0.316,"hi":0.459},{"x":0.243,"lo":0.19,"q1":0.233,"md":0.257,"q3":0.356,"hi":0.53},{"x":0.263,"lo":0.218,"q1":0.259,"md":0.288,"q3":0.365,"hi":0.5},{"x":0.283,"lo":0.238,"q1":0.282,"md":0.341,"q3":0.403,"hi":0.51},{"x":0.302,"lo":0.229,"q1":0.337,"md":0.426,"q3":0.478,"hi":0.606},{"x":0.322,"lo":0.26,"q1":0.313,"md":0.368,"q3":0.398,"hi":0.51},{"x":0.342,"lo":0.265,"q1":0.429,"md":0.455,"q3":0.541,"hi":0.61},{"x":0.36,"lo":0.337,"q1":0.377,"md":0.488,"q3":0.497,"hi":0.497},{"x":0.378,"lo":0.505,"q1":0.511,"md":0.52,"q3":0.535,"hi":0.546},{"x":0.395,"lo":0.544,"q1":0.548,"md":0.557,"q3":0.575,"hi":0.586},{"x":0.42,"lo":0.645,"q1":0.648,"md":0.652,"q3":0.656,"hi":0.66}],
"mBo":[
{"x":0.008,"y":0.025},{"x":0.008,"y":0.03},{"x":0.008,"y":0.035},{"x":0.008,"y":0.04},{"x":0.008,"y":0.045},{"x":0.008,"y":0.05},{"x":0.008,"y":0.055},{"x":0.008,"y":0.06},
{"x":0.025,"y":0.05},{"x":0.025,"y":0.06},{"x":0.025,"y":0.07},{"x":0.025,"y":0.08},{"x":0.025,"y":0.09},{"x":0.025,"y":0.1},{"x":0.025,"y":0.11},{"x":0.025,"y":0.12},{"x":0.025,"y":0.13},{"x":0.025,"y":0.14},{"x":0.025,"y":0.15},{"x":0.025,"y":0.16},{"x":0.025,"y":0.17},{"x":0.025,"y":0.18},{"x":0.025,"y":0.19},{"x":0.025,"y":0.2},{"x":0.025,"y":0.21},{"x":0.025,"y":0.22},{"x":0.025,"y":0.23},{"x":0.025,"y":0.24},{"x":0.025,"y":0.25},{"x":0.025,"y":0.26},{"x":0.025,"y":0.27},{"x":0.025,"y":0.28},{"x":0.025,"y":0.29},{"x":0.025,"y":0.3},{"x":0.025,"y":0.31},{"x":0.025,"y":0.32},{"x":0.025,"y":0.33},{"x":0.025,"y":0.34},{"x":0.025,"y":0.35},{"x":0.025,"y":0.36},{"x":0.025,"y":0.37},{"x":0.025,"y":0.38},{"x":0.025,"y":0.39},{"x":0.025,"y":0.4},{"x":0.025,"y":0.41},{"x":0.025,"y":0.42},{"x":0.025,"y":0.43},{"x":0.025,"y":0.44},
{"x":0.045,"y":0.06},{"x":0.045,"y":0.07},{"x":0.045,"y":0.08},{"x":0.045,"y":0.09},{"x":0.045,"y":0.1},{"x":0.045,"y":0.11},{"x":0.045,"y":0.12},{"x":0.045,"y":0.13},{"x":0.045,"y":0.14},{"x":0.045,"y":0.15},{"x":0.045,"y":0.16},{"x":0.045,"y":0.17},{"x":0.045,"y":0.18},{"x":0.045,"y":0.19},{"x":0.045,"y":0.2},{"x":0.045,"y":0.21},{"x":0.045,"y":0.22},{"x":0.045,"y":0.23},{"x":0.045,"y":0.24},{"x":0.045,"y":0.25},{"x":0.045,"y":0.26},{"x":0.045,"y":0.27},{"x":0.045,"y":0.28},{"x":0.045,"y":0.29},{"x":0.045,"y":0.3},{"x":0.045,"y":0.31},{"x":0.045,"y":0.32},{"x":0.045,"y":0.33},{"x":0.045,"y":0.34},{"x":0.045,"y":0.35},{"x":0.045,"y":0.36},{"x":0.045,"y":0.37},{"x":0.045,"y":0.38},{"x":0.045,"y":0.39},{"x":0.045,"y":0.4},{"x":0.045,"y":0.41},{"x":0.045,"y":0.42},{"x":0.045,"y":0.43},{"x":0.045,"y":0.44},{"x":0.045,"y":0.45},{"x":0.045,"y":0.46},{"x":0.045,"y":0.47},{"x":0.045,"y":0.48},{"x":0.045,"y":0.49},
{"x":0.065,"y":0.1},{"x":0.065,"y":0.11},{"x":0.065,"y":0.12},{"x":0.065,"y":0.13},{"x":0.065,"y":0.14},{"x":0.065,"y":0.15},{"x":0.065,"y":0.16},{"x":0.065,"y":0.17},{"x":0.065,"y":0.18},{"x":0.065,"y":0.19},{"x":0.065,"y":0.2},{"x":0.065,"y":0.21},{"x":0.065,"y":0.22},{"x":0.065,"y":0.23},{"x":0.065,"y":0.24},{"x":0.065,"y":0.25},{"x":0.065,"y":0.26},{"x":0.065,"y":0.27},{"x":0.065,"y":0.28},{"x":0.065,"y":0.29},{"x":0.065,"y":0.3},{"x":0.065,"y":0.31},{"x":0.065,"y":0.32},{"x":0.065,"y":0.33},{"x":0.065,"y":0.34},{"x":0.065,"y":0.35},{"x":0.065,"y":0.36},{"x":0.065,"y":0.37},{"x":0.065,"y":0.38},{"x":0.065,"y":0.39},{"x":0.065,"y":0.4},{"x":0.065,"y":0.41},{"x":0.065,"y":0.42},{"x":0.065,"y":0.43},{"x":0.065,"y":0.44},{"x":0.065,"y":0.45},{"x":0.065,"y":0.46},{"x":0.065,"y":0.47},{"x":0.065,"y":0.48},
{"x":0.085,"y":0.15},{"x":0.085,"y":0.16},{"x":0.085,"y":0.17},{"x":0.085,"y":0.18},{"x":0.085,"y":0.19},{"x":0.085,"y":0.2},{"x":0.085,"y":0.21},{"x":0.085,"y":0.22},{"x":0.085,"y":0.23},{"x":0.085,"y":0.24},{"x":0.085,"y":0.25},{"x":0.085,"y":0.26},{"x":0.085,"y":0.27},{"x":0.085,"y":0.28},{"x":0.085,"y":0.29},{"x":0.085,"y":0.3},{"x":0.085,"y":0.31},{"x":0.085,"y":0.32},{"x":0.085,"y":0.33},{"x":0.085,"y":0.34},{"x":0.085,"y":0.35},{"x":0.085,"y":0.36},{"x":0.085,"y":0.37},{"x":0.085,"y":0.38},{"x":0.085,"y":0.39},{"x":0.085,"y":0.4},{"x":0.085,"y":0.41},{"x":0.085,"y":0.42},{"x":0.085,"y":0.43},{"x":0.085,"y":0.44},{"x":0.085,"y":0.45},{"x":0.085,"y":0.46},{"x":0.085,"y":0.47},{"x":0.085,"y":0.48},
{"x":0.105,"y":0.4},{"x":0.105,"y":0.41},{"x":0.105,"y":0.42},{"x":0.105,"y":0.43},{"x":0.105,"y":0.44},{"x":0.105,"y":0.45},{"x":0.105,"y":0.46},{"x":0.105,"y":0.47},{"x":0.105,"y":0.48},{"x":0.105,"y":0.49},
{"x":0.124,"y":0.34},{"x":0.124,"y":0.35},{"x":0.124,"y":0.36},{"x":0.124,"y":0.37},{"x":0.124,"y":0.38},{"x":0.124,"y":0.39},{"x":0.124,"y":0.4},{"x":0.124,"y":0.41},{"x":0.124,"y":0.42},{"x":0.124,"y":0.43},{"x":0.124,"y":0.44},{"x":0.124,"y":0.45},{"x":0.124,"y":0.46},{"x":0.124,"y":0.47},{"x":0.124,"y":0.48},{"x":0.124,"y":0.49},{"x":0.124,"y":0.5},
{"x":0.145,"y":0.35},{"x":0.145,"y":0.36},{"x":0.145,"y":0.37},{"x":0.145,"y":0.38},{"x":0.145,"y":0.39},{"x":0.145,"y":0.4},{"x":0.145,"y":0.41},{"x":0.145,"y":0.42},{"x":0.145,"y":0.43},{"x":0.145,"y":0.44},{"x":0.145,"y":0.45},{"x":0.145,"y":0.46},{"x":0.145,"y":0.47},{"x":0.145,"y":0.48},{"x":0.145,"y":0.49},
{"x":0.165,"y":0.45},{"x":0.165,"y":0.46},{"x":0.165,"y":0.47},{"x":0.165,"y":0.48},{"x":0.165,"y":0.49},{"x":0.165,"y":0.5},
{"x":0.205,"y":0.507},{"x":0.224,"y":0.47},{"x":0.224,"y":0.48},{"x":0.224,"y":0.49},{"x":0.224,"y":0.5},{"x":0.224,"y":0.51},{"x":0.224,"y":0.52},{"x":0.224,"y":0.546},{"x":0.243,"y":0.545},{"x":0.243,"y":0.586},{"x":0.263,"y":0.524},{"x":0.283,"y":0.604},{"x":0.322,"y":0.558}]
},
"hconcat":[
{"vconcat":[
 {"width":252,"height":260,
  "encoding":{"x":{"field":"x","type":"quantitative","scale":{"type":"log","domain":[0.00098,0.68],"nice":false},"axis":{"title":"Predicted <cos(ζ)>","values":[0.001,0.01,0.1],"format":".3f"}},
   "y":{"field":"y","type":"quantitative","scale":{"type":"log","domain":[0.00098,0.68],"nice":false},"axis":{"title":"Observed <cos(ζ)>","values":[0.001,0.01,0.1],"format":".3f"}}},
  "layer":[
   {"data":{"name":"sA"},"mark":{"type":"point","filled":true,"opacity":0.55,"size":70},
    "encoding":{"color":{"field":"s","type":"nominal","scale":{"domain":["100","200","300"],"range":["#F8766D","#00BA38","#619CFF"]},"legend":{"title":"Species","orient":"top-left","offset":19,"symbolType":"circle","symbolSize":64,"symbolOpacity":0.6,"rowPadding":3,"titlePadding":5}},
     "shape":{"field":"c","type":"nominal","scale":{"domain":["0.25","0.5","0.75","0.9"],"range":["circle","triangle-up","square","M-1,-0.14H1V0.14H-1ZM-0.14,-1H0.14V1H-0.14Z"]},"legend":null}}},
   {"data":{"name":"diag"},"transform":[{"filter":"datum.g=='A'"}],"mark":{"type":"line","color":"black","strokeWidth":0.7,"clip":true},"encoding":{}}
  ]},
 {"width":252,"height":263,
  "encoding":{"x":{"field":"x","type":"quantitative","scale":{"type":"log","domain":[0.00069,0.1255],"nice":false},"axis":{"title":"Predicted fluctuations of cos(ζ)","values":[0.001,0.01,0.1],"format":".3f"}},
   "y":{"field":"y","type":"quantitative","scale":{"type":"log","domain":[0.0008,0.133],"nice":false},"axis":{"title":"Observed fluctuations of cos(ζ)","values":[0.001,0.01,0.1],"format":".3f"}}},
  "layer":[
   {"data":{"name":"sB"},"mark":{"type":"point","filled":true,"opacity":0.55,"size":70},
    "encoding":{"color":{"field":"s","type":"nominal","scale":{"domain":["100","200","300"],"range":["#F8766D","#00BA38","#619CFF"]},"legend":null},
     "shape":{"field":"c","type":"nominal","scale":{"domain":["0.25","0.5","0.75","0.9"],"range":["circle","triangle-up","square","M-1,-0.14H1V0.14H-1ZM-0.14,-1H0.14V1H-0.14Z"]},"legend":{"title":"Connectance","orient":"top-left","offset":18,"symbolSize":64,"symbolFillColor":"#7F7F7F","symbolStrokeColor":"#7F7F7F","symbolOpacity":1,"rowPadding":2,"titlePadding":5}}}},
   {"data":{"name":"diag"},"transform":[{"filter":"datum.g=='B'"}],"mark":{"type":"line","color":"black","strokeWidth":0.7,"clip":true},"encoding":{}}
  ]}
 ],"spacing":9,"resolve":{"scale":{"color":"independent","shape":"independent"}}},
{"hconcat":[
 {"vconcat":[
  {"title":{"text":"Observed <cos(ζ)>","orient":"left","fontSize":17,"fontWeight":"normal","anchor":"middle","offset":4},
   "vconcat":[{
    "title":{"text":"Null <cos(ζ)>","orient":"bottom","fontSize":17,"fontWeight":"normal","anchor":"middle","offset":2,"dx":10},
    "concat":[
     {"width":129,"height":18,"view":{"fill":"#D9D9D9","stroke":"#A6A6A6","strokeWidth":1},"data":{"values":[{"lab":"Bipartite"}]},"mark":{"type":"text","fontSize":14.5,"color":"#1A1A1A","baseline":"middle"},"encoding":{"text":{"field":"lab","type":"nominal"}}},
     {"width":129,"height":18,"view":{"fill":"#D9D9D9","stroke":"#A6A6A6","strokeWidth":1},"data":{"values":[{"lab":"Cascade"}]},"mark":{"type":"text","fontSize":14.5,"color":"#1A1A1A","baseline":"middle"},"encoding":{"text":{"field":"lab","type":"nominal"}}},
     {"width":129,"height":110,
      "encoding":{"x":{"field":"x","type":"quantitative","scale":{"domain":[-0.0163,0.121],"nice":false,"zero":false},"axis":null},
       "y":{"field":"y","type":"quantitative","scale":{"domain":[-0.0152,0.121],"nice":false,"zero":false},"axis":{"title":null,"values":[0,0.04,0.08,0.12],"format":".2f"}}},
      "layer":[
       {"data":{"name":"fTb"},"transform":[{"filter":"datum.p=='B'"}],"mark":{"type":"rule","color":"#FF0000","strokeWidth":1},"encoding":{"y":{"field":"lo","type":"quantitative","axis":{"title":null,"values":[0,0.04,0.08,0.12],"format":".2f"}},"y2":{"field":"hi"}}},
       {"data":{"name":"fTb"},"transform":[{"filter":"datum.p=='B'"}],"mark":{"type":"bar","orient":"vertical","width":8,"fill":"white","stroke":"#FF0000","strokeWidth":1.5},"encoding":{"y":{"field":"q1","type":"quantitative","axis":{"title":null,"values":[0,0.04,0.08,0.12],"format":".2f"}},"y2":{"field":"q3"}}},
       {"data":{"name":"fTb"},"transform":[{"filter":"datum.p=='B'"}],"mark":{"type":"tick","orient":"horizontal","size":8,"thickness":1.5,"color":"#FF0000"},"encoding":{"y":{"field":"md","type":"quantitative","axis":{"title":null,"values":[0,0.04,0.08,0.12],"format":".2f"}}}},
       {"data":{"name":"fTo"},"transform":[{"filter":"datum.p=='B'"}],"mark":{"type":"circle","size":10,"color":"#FF0000","opacity":1},"encoding":{}},
       {"data":{"name":"diag"},"transform":[{"filter":"datum.g=='fT'"}],"mark":{"type":"line","color":"black","strokeWidth":0.7,"clip":true},"encoding":{}}
      ]},
     {"width":129,"height":110,
      "encoding":{"x":{"field":"x","type":"quantitative","scale":{"domain":[-0.0163,0.121],"nice":false,"zero":false},"axis":null},
       "y":{"field":"y","type":"quantitative","scale":{"domain":[-0.0152,0.121],"nice":false,"zero":false},"axis":null}},
      "layer":[
       {"data":{"name":"fTb"},"transform":[{"filter":"datum.p=='C'"}],"mark":{"type":"rule","color":"#FF0000","strokeWidth":1},"encoding":{"y":{"field":"lo","type":"quantitative","axis":null},"y2":{"field":"hi"}}},
       {"data":{"name":"fTb"},"transform":[{"filter":"datum.p=='C'"}],"mark":{"type":"bar","orient":"vertical","width":8,"fill":"white","stroke":"#FF0000","strokeWidth":1.5},"encoding":{"y":{"field":"q1","type":"quantitative","axis":null},"y2":{"field":"q3"}}},
       {"data":{"name":"fTb"},"transform":[{"filter":"datum.p=='C'"}],"mark":{"type":"tick","orient":"horizontal","size":8,"thickness":1.5,"color":"#FF0000"},"encoding":{"y":{"field":"md","type":"quantitative","axis":null}}},
       {"data":{"name":"fTo"},"transform":[{"filter":"datum.p=='C'"}],"mark":{"type":"circle","size":10,"color":"#FF0000","opacity":1},"encoding":{}},
       {"data":{"name":"diag"},"transform":[{"filter":"datum.g=='fT'"}],"mark":{"type":"line","color":"black","strokeWidth":0.7,"clip":true},"encoding":{}}
      ]},
     {"width":129,"height":5,"view":{"stroke":null},"data":{"values":[]},"mark":"point"},
     {"width":129,"height":5,"view":{"stroke":null},"data":{"values":[]},"mark":"point"},
     {"width":129,"height":18,"view":{"fill":"#D9D9D9","stroke":"#A6A6A6","strokeWidth":1},"data":{"values":[{"lab":"Modular"}]},"mark":{"type":"text","fontSize":14.5,"color":"#1A1A1A","baseline":"middle"},"encoding":{"text":{"field":"lab","type":"nominal"}}},
     {"width":129,"height":18,"view":{"fill":"#D9D9D9","stroke":"#A6A6A6","strokeWidth":1},"data":{"values":[{"lab":"Nested"}]},"mark":{"type":"text","fontSize":14.5,"color":"#1A1A1A","baseline":"middle"},"encoding":{"text":{"field":"lab","type":"nominal"}}},
     {"width":129,"height":110,
      "encoding":{"x":{"field":"x","type":"quantitative","scale":{"domain":[-0.0163,0.121],"nice":false,"zero":false},"axis":{"title":null,"values":[0,0.04,0.08,0.12],"format":".2f"}},
       "y":{"field":"y","type":"quantitative","scale":{"domain":[-0.0152,0.121],"nice":false,"zero":false},"axis":{"title":null,"values":[0,0.04,0.08,0.12],"format":".2f"}}},
      "layer":[
       {"data":{"name":"fTb"},"transform":[{"filter":"datum.p=='M'"}],"mark":{"type":"rule","color":"#FF0000","strokeWidth":1},"encoding":{"y":{"field":"lo","type":"quantitative","axis":{"title":null,"values":[0,0.04,0.08,0.12],"format":".2f"}},"y2":{"field":"hi"}}},
       {"data":{"name":"fTb"},"transform":[{"filter":"datum.p=='M'"}],"mark":{"type":"bar","orient":"vertical","width":8,"fill":"white","stroke":"#FF0000","strokeWidth":1.5},"encoding":{"y":{"field":"q1","type":"quantitative","axis":{"title":null,"values":[0,0.04,0.08,0.12],"format":".2f"}},"y2":{"field":"q3"}}},
       {"data":{"name":"fTb"},"transform":[{"filter":"datum.p=='M'"}],"mark":{"type":"tick","orient":"horizontal","size":8,"thickness":1.5,"color":"#FF0000"},"encoding":{"y":{"field":"md","type":"quantitative","axis":{"title":null,"values":[0,0.04,0.08,0.12],"format":".2f"}}}},
       {"data":{"name":"fTo"},"transform":[{"filter":"datum.p=='M'"}],"mark":{"type":"circle","size":10,"color":"#FF0000","opacity":1},"encoding":{}},
       {"data":{"name":"diag"},"transform":[{"filter":"datum.g=='fT'"}],"mark":{"type":"line","color":"black","strokeWidth":0.7,"clip":true},"encoding":{}}
      ]},
     {"width":129,"height":110,
      "encoding":{"x":{"field":"x","type":"quantitative","scale":{"domain":[-0.0163,0.121],"nice":false,"zero":false},"axis":{"title":null,"values":[0,0.04,0.08,0.12],"format":".2f"}},
       "y":{"field":"y","type":"quantitative","scale":{"domain":[-0.0152,0.121],"nice":false,"zero":false},"axis":null}},
      "layer":[
       {"data":{"name":"fTb"},"transform":[{"filter":"datum.p=='N'"}],"mark":{"type":"rule","color":"#FF0000","strokeWidth":1},"encoding":{"y":{"field":"lo","type":"quantitative","axis":null},"y2":{"field":"hi"}}},
       {"data":{"name":"fTb"},"transform":[{"filter":"datum.p=='N'"}],"mark":{"type":"bar","orient":"vertical","width":8,"fill":"white","stroke":"#FF0000","strokeWidth":1.5},"encoding":{"y":{"field":"q1","type":"quantitative","axis":null},"y2":{"field":"q3"}}},
       {"data":{"name":"fTb"},"transform":[{"filter":"datum.p=='N'"}],"mark":{"type":"tick","orient":"horizontal","size":8,"thickness":1.5,"color":"#FF0000"},"encoding":{"y":{"field":"md","type":"quantitative","axis":null}}},
       {"data":{"name":"fTo"},"transform":[{"filter":"datum.p=='N'"}],"mark":{"type":"circle","size":10,"color":"#FF0000","opacity":1},"encoding":{}},
       {"data":{"name":"diag"},"transform":[{"filter":"datum.g=='fT'"}],"mark":{"type":"line","color":"black","strokeWidth":0.7,"clip":true},"encoding":{}}
      ]}
    ],"columns":2,"bounds":"flush","spacing":{"row":0,"column":3}}]},
  {"title":{"text":"Observed fluctuations of cos(ζ)","orient":"left","fontSize":17,"fontWeight":"normal","anchor":"middle","offset":4},
   "vconcat":[{
    "title":{"text":"Null fluctuations of cos(ζ)","orient":"bottom","fontSize":17,"fontWeight":"normal","anchor":"middle","offset":2,"dx":5},
    "concat":[
     {"width":129,"height":19,"view":{"fill":"#D9D9D9","stroke":"#A6A6A6","strokeWidth":1},"data":{"values":[{"lab":"Bipartite"}]},"mark":{"type":"text","fontSize":14.5,"color":"#1A1A1A","baseline":"middle"},"encoding":{"text":{"field":"lab","type":"nominal"}}},
     {"width":129,"height":19,"view":{"fill":"#D9D9D9","stroke":"#A6A6A6","strokeWidth":1},"data":{"values":[{"lab":"Cascade"}]},"mark":{"type":"text","fontSize":14.5,"color":"#1A1A1A","baseline":"middle"},"encoding":{"text":{"field":"lab","type":"nominal"}}},
     {"width":129,"height":109,
      "encoding":{"x":{"field":"x","type":"quantitative","scale":{"domain":[-0.003,0.1008],"nice":false,"zero":false},"axis":null},
       "y":{"field":"y","type":"quantitative","scale":{"domain":[-0.004,0.215],"nice":false,"zero":false},"axis":{"title":null,"values":[0,0.05,0.1,0.15,0.2],"format":".2f"}}},
      "layer":[
       {"data":{"name":"fBb"},"transform":[{"filter":"datum.p=='B'"}],"mark":{"type":"rule","color":"#FF0000","strokeWidth":1},"encoding":{"y":{"field":"lo","type":"quantitative","axis":{"title":null,"values":[0,0.05,0.1,0.15,0.2],"format":".2f"}},"y2":{"field":"hi"}}},
       {"data":{"name":"fBb"},"transform":[{"filter":"datum.p=='B'"}],"mark":{"type":"bar","orient":"vertical","width":9,"fill":"white","stroke":"#FF0000","strokeWidth":1.5},"encoding":{"y":{"field":"q1","type":"quantitative","axis":{"title":null,"values":[0,0.05,0.1,0.15,0.2],"format":".2f"}},"y2":{"field":"q3"}}},
       {"data":{"name":"fBb"},"transform":[{"filter":"datum.p=='B'"}],"mark":{"type":"tick","orient":"horizontal","size":9,"thickness":1.5,"color":"#FF0000"},"encoding":{"y":{"field":"md","type":"quantitative","axis":{"title":null,"values":[0,0.05,0.1,0.15,0.2],"format":".2f"}}}},
       {"data":{"name":"fBo"},"transform":[{"filter":"datum.p=='B'"}],"mark":{"type":"circle","size":10,"color":"#FF0000","opacity":1},"encoding":{}},
       {"data":{"name":"diag"},"transform":[{"filter":"datum.g=='fB'"}],"mark":{"type":"line","color":"black","strokeWidth":0.7,"clip":true},"encoding":{}}
      ]},
     {"width":129,"height":109,
      "encoding":{"x":{"field":"x","type":"quantitative","scale":{"domain":[-0.003,0.1008],"nice":false,"zero":false},"axis":null},
       "y":{"field":"y","type":"quantitative","scale":{"domain":[-0.004,0.215],"nice":false,"zero":false},"axis":null}},
      "layer":[
       {"data":{"name":"fBb"},"transform":[{"filter":"datum.p=='C'"}],"mark":{"type":"rule","color":"#FF0000","strokeWidth":1},"encoding":{"y":{"field":"lo","type":"quantitative","axis":null},"y2":{"field":"hi"}}},
       {"data":{"name":"fBb"},"transform":[{"filter":"datum.p=='C'"}],"mark":{"type":"bar","orient":"vertical","width":9,"fill":"white","stroke":"#FF0000","strokeWidth":1.5},"encoding":{"y":{"field":"q1","type":"quantitative","axis":null},"y2":{"field":"q3"}}},
       {"data":{"name":"fBb"},"transform":[{"filter":"datum.p=='C'"}],"mark":{"type":"tick","orient":"horizontal","size":9,"thickness":1.5,"color":"#FF0000"},"encoding":{"y":{"field":"md","type":"quantitative","axis":null}}},
       {"data":{"name":"fBo"},"transform":[{"filter":"datum.p=='C'"}],"mark":{"type":"circle","size":10,"color":"#FF0000","opacity":1},"encoding":{}},
       {"data":{"name":"diag"},"transform":[{"filter":"datum.g=='fB'"}],"mark":{"type":"line","color":"black","strokeWidth":0.7,"clip":true},"encoding":{}}
      ]},
     {"width":129,"height":5,"view":{"stroke":null},"data":{"values":[]},"mark":"point"},
     {"width":129,"height":5,"view":{"stroke":null},"data":{"values":[]},"mark":"point"},
     {"width":129,"height":19,"view":{"fill":"#D9D9D9","stroke":"#A6A6A6","strokeWidth":1},"data":{"values":[{"lab":"Modular"}]},"mark":{"type":"text","fontSize":14.5,"color":"#1A1A1A","baseline":"middle"},"encoding":{"text":{"field":"lab","type":"nominal"}}},
     {"width":129,"height":19,"view":{"fill":"#D9D9D9","stroke":"#A6A6A6","strokeWidth":1},"data":{"values":[{"lab":"Nested"}]},"mark":{"type":"text","fontSize":14.5,"color":"#1A1A1A","baseline":"middle"},"encoding":{"text":{"field":"lab","type":"nominal"}}},
     {"width":129,"height":109,
      "encoding":{"x":{"field":"x","type":"quantitative","scale":{"domain":[-0.003,0.1008],"nice":false,"zero":false},"axis":{"title":null,"values":[0,0.025,0.05,0.075,0.1],"format":".3f"}},
       "y":{"field":"y","type":"quantitative","scale":{"domain":[-0.004,0.215],"nice":false,"zero":false},"axis":{"title":null,"values":[0,0.05,0.1,0.15,0.2],"format":".2f"}}},
      "layer":[
       {"data":{"name":"fBb"},"transform":[{"filter":"datum.p=='M'"}],"mark":{"type":"rule","color":"#FF0000","strokeWidth":1},"encoding":{"y":{"field":"lo","type":"quantitative","axis":{"title":null,"values":[0,0.05,0.1,0.15,0.2],"format":".2f"}},"y2":{"field":"hi"}}},
       {"data":{"name":"fBb"},"transform":[{"filter":"datum.p=='M'"}],"mark":{"type":"bar","orient":"vertical","width":9,"fill":"white","stroke":"#FF0000","strokeWidth":1.5},"encoding":{"y":{"field":"q1","type":"quantitative","axis":{"title":null,"values":[0,0.05,0.1,0.15,0.2],"format":".2f"}},"y2":{"field":"q3"}}},
       {"data":{"name":"fBb"},"transform":[{"filter":"datum.p=='M'"}],"mark":{"type":"tick","orient":"horizontal","size":9,"thickness":1.5,"color":"#FF0000"},"encoding":{"y":{"field":"md","type":"quantitative","axis":{"title":null,"values":[0,0.05,0.1,0.15,0.2],"format":".2f"}}}},
       {"data":{"name":"fBo"},"transform":[{"filter":"datum.p=='M'"}],"mark":{"type":"circle","size":10,"color":"#FF0000","opacity":1},"encoding":{}},
       {"data":{"name":"diag"},"transform":[{"filter":"datum.g=='fB'"}],"mark":{"type":"line","color":"black","strokeWidth":0.7,"clip":true},"encoding":{}}
      ]},
     {"width":129,"height":109,
      "encoding":{"x":{"field":"x","type":"quantitative","scale":{"domain":[-0.003,0.1008],"nice":false,"zero":false},"axis":{"title":null,"values":[0,0.025,0.05,0.075,0.1],"format":".3f"}},
       "y":{"field":"y","type":"quantitative","scale":{"domain":[-0.004,0.215],"nice":false,"zero":false},"axis":null}},
      "layer":[
       {"data":{"name":"fBb"},"transform":[{"filter":"datum.p=='N'"}],"mark":{"type":"rule","color":"#FF0000","strokeWidth":1},"encoding":{"y":{"field":"lo","type":"quantitative","axis":null},"y2":{"field":"hi"}}},
       {"data":{"name":"fBb"},"transform":[{"filter":"datum.p=='N'"}],"mark":{"type":"bar","orient":"vertical","width":9,"fill":"white","stroke":"#FF0000","strokeWidth":1.5},"encoding":{"y":{"field":"q1","type":"quantitative","axis":null},"y2":{"field":"q3"}}},
       {"data":{"name":"fBb"},"transform":[{"filter":"datum.p=='N'"}],"mark":{"type":"tick","orient":"horizontal","size":9,"thickness":1.5,"color":"#FF0000"},"encoding":{"y":{"field":"md","type":"quantitative","axis":null}}},
       {"data":{"name":"fBo"},"transform":[{"filter":"datum.p=='N'"}],"mark":{"type":"circle","size":10,"color":"#FF0000","opacity":1},"encoding":{}},
       {"data":{"name":"diag"},"transform":[{"filter":"datum.g=='fB'"}],"mark":{"type":"line","color":"black","strokeWidth":0.7,"clip":true},"encoding":{}}
      ]}
    ],"columns":2,"bounds":"flush","spacing":{"row":0,"column":3}}]}
 ],"spacing":6},
 {"hconcat":[
  {"vconcat":[
   {"vconcat":[
    {"width":260,"height":21,"view":{"stroke":null},"data":{"values":[{"lab":"Empirical food webs"}]},"mark":{"type":"text","fontSize":21,"fontWeight":"bold","color":"black","baseline":"middle"},"encoding":{"text":{"field":"lab","type":"nominal"}}},
    {"width":260,"height":235,
     "encoding":{"x":{"field":"x","type":"quantitative","scale":{"domain":[-0.0094,0.0201],"nice":false,"zero":false},"axis":{"title":"Null <cos(ζ)>","values":[0,0.01,0.02],"format":".2f"}},
      "y":{"field":"y","type":"quantitative","scale":{"domain":[-0.0077,0.0389],"nice":false,"zero":false},"axis":{"title":"Observed <cos(ζ)>","values":[0,0.01,0.02,0.03],"format":".2f"}}},
     "layer":[
      {"data":{"name":"eTb"},"mark":{"type":"rule","color":"#0000FF","strokeWidth":1.2},"encoding":{"y":{"field":"lo","type":"quantitative","axis":{"title":"Observed <cos(ζ)>","values":[0,0.01,0.02,0.03],"format":".2f"}},"y2":{"field":"hi"}}},
      {"data":{"name":"eTb"},"mark":{"type":"bar","orient":"vertical","width":7,"fill":"white","stroke":"#0000FF","strokeWidth":1.5},"encoding":{"y":{"field":"q1","type":"quantitative","axis":{"title":"Observed <cos(ζ)>","values":[0,0.01,0.02,0.03],"format":".2f"}},"y2":{"field":"q3"}}},
      {"data":{"name":"eTb"},"mark":{"type":"tick","orient":"horizontal","size":7,"thickness":1.5,"color":"#0000FF"},"encoding":{"y":{"field":"md","type":"quantitative","axis":{"title":"Observed <cos(ζ)>","values":[0,0.01,0.02,0.03],"format":".2f"}}}},
      {"data":{"name":"eTo"},"mark":{"type":"circle","size":10,"color":"#0000FF","opacity":1},"encoding":{}},
      {"data":{"name":"diag"},"transform":[{"filter":"datum.g=='eT'"}],"mark":{"type":"line","color":"black","strokeWidth":0.7,"clip":true},"encoding":{}}
     ]}
   ],"spacing":0},
   {"width":260,"height":256,
    "encoding":{"x":{"field":"x","type":"quantitative","scale":{"domain":[-0.0015,0.0637],"nice":false,"zero":false},"axis":{"title":"Null fluctuations of cos(ζ)","values":[0,0.02,0.04,0.06],"format":".2f"}},
     "y":{"field":"y","type":"quantitative","scale":{"domain":[-0.0025,0.0939],"nice":false,"zero":false},"axis":{"title":"Observed fluctuations of cos(ζ)","values":[0,0.025,0.05,0.075],"format":".3f"}}},
    "layer":[
     {"data":{"name":"eBb"},"mark":{"type":"rule","color":"#0000FF","strokeWidth":1.2},"encoding":{"y":{"field":"lo","type":"quantitative","axis":{"title":"Observed fluctuations of cos(ζ)","values":[0,0.025,0.05,0.075],"format":".3f"}},"y2":{"field":"hi"}}},
     {"data":{"name":"eBb"},"mark":{"type":"bar","orient":"vertical","width":10,"fill":"white","stroke":"#0000FF","strokeWidth":1.5},"encoding":{"y":{"field":"q1","type":"quantitative","axis":{"title":"Observed fluctuations of cos(ζ)","values":[0,0.025,0.05,0.075],"format":".3f"}},"y2":{"field":"q3"}}},
     {"data":{"name":"eBb"},"mark":{"type":"tick","orient":"horizontal","size":10,"thickness":1.5,"color":"#0000FF"},"encoding":{"y":{"field":"md","type":"quantitative","axis":{"title":"Observed fluctuations of cos(ζ)","values":[0,0.025,0.05,0.075],"format":".3f"}}}},
     {"data":{"name":"eBo"},"mark":{"type":"circle","size":10,"color":"#0000FF","opacity":1},"encoding":{}},
     {"data":{"name":"diag"},"transform":[{"filter":"datum.g=='eB'"}],"mark":{"type":"line","color":"black","strokeWidth":0.7,"clip":true},"encoding":{}}
    ]}
  ],"spacing":14},
  {"vconcat":[
   {"vconcat":[
    {"width":268,"height":21,"view":{"stroke":null},"data":{"values":[{"lab":"Empirical mutualistic"}]},"mark":{"type":"text","fontSize":21,"fontWeight":"bold","color":"black","baseline":"middle"},"encoding":{"text":{"field":"lab","type":"nominal"}}},
    {"width":268,"height":237,
     "encoding":{"x":{"field":"x","type":"quantitative","scale":{"domain":[-0.2,0.859],"nice":false,"zero":false},"axis":{"title":"Null <cos(ζ)>","values":[-0.2,0,0.2,0.4,0.6,0.8],"format":".1f"}},
      "y":{"field":"y","type":"quantitative","scale":{"domain":[-0.2,0.862],"nice":false,"zero":false},"axis":{"title":"Observed <cos(ζ)>","values":[-0.2,0,0.2,0.4,0.6,0.8],"format":".1f"}}},
     "layer":[
      {"data":{"name":"mTb"},"mark":{"type":"rule","color":"#0000FF","strokeWidth":1.2},"encoding":{"y":{"field":"lo","type":"quantitative","axis":{"title":"Observed <cos(ζ)>","values":[-0.2,0,0.2,0.4,0.6,0.8],"format":".1f"}},"y2":{"field":"hi"}}},
      {"data":{"name":"mTb"},"mark":{"type":"bar","orient":"vertical","width":11,"fill":"white","stroke":"#0000FF","strokeWidth":1.5},"encoding":{"y":{"field":"q1","type":"quantitative","axis":{"title":"Observed <cos(ζ)>","values":[-0.2,0,0.2,0.4,0.6,0.8],"format":".1f"}},"y2":{"field":"q3"}}},
      {"data":{"name":"mTb"},"mark":{"type":"tick","orient":"horizontal","size":11,"thickness":1.5,"color":"#0000FF"},"encoding":{"y":{"field":"md","type":"quantitative","axis":{"title":"Observed <cos(ζ)>","values":[-0.2,0,0.2,0.4,0.6,0.8],"format":".1f"}}}},
      {"data":{"name":"mTo"},"mark":{"type":"circle","size":10,"color":"#0000FF","opacity":1},"encoding":{}},
      {"data":{"name":"diag"},"transform":[{"filter":"datum.g=='mT'"}],"mark":{"type":"line","color":"black","strokeWidth":0.7,"clip":true},"encoding":{}}
     ]}
   ],"spacing":0},
   {"width":268,"height":256,
    "encoding":{"x":{"field":"x","type":"quantitative","scale":{"domain":[-0.014,0.448],"nice":false,"zero":false},"axis":{"title":"Null fluctuations of cos(ζ)","values":[0,0.1,0.2,0.3,0.4],"format":".1f"}},
     "y":{"field":"y","type":"quantitative","scale":{"domain":[-0.026,0.698],"nice":false,"zero":false},"axis":{"title":"Observed fluctuations of cos(ζ)","values":[0,0.2,0.4,0.6],"format":".1f"}}},
    "layer":[
     {"data":{"name":"mBb"},"mark":{"type":"rule","color":"#0000FF","strokeWidth":1.5},"encoding":{"y":{"field":"lo","type":"quantitative","axis":{"title":"Observed fluctuations of cos(ζ)","values":[0,0.2,0.4,0.6],"format":".1f"}},"y2":{"field":"hi"}}},
     {"data":{"name":"mBb"},"mark":{"type":"bar","orient":"vertical","width":10,"fill":"white","stroke":"#0000FF","strokeWidth":1.5},"encoding":{"y":{"field":"q1","type":"quantitative","axis":{"title":"Observed fluctuations of cos(ζ)","values":[0,0.2,0.4,0.6],"format":".1f"}},"y2":{"field":"q3"}}},
     {"data":{"name":"mBb"},"mark":{"type":"tick","orient":"horizontal","size":10,"thickness":2.5,"color":"#0000FF"},"encoding":{"y":{"field":"md","type":"quantitative","axis":{"title":"Observed fluctuations of cos(ζ)","values":[0,0.2,0.4,0.6],"format":".1f"}}}},
     {"data":{"name":"mBo"},"mark":{"type":"circle","size":14,"color":"#0000FF","opacity":1},"encoding":{}},
     {"data":{"name":"diag"},"transform":[{"filter":"datum.g=='mB'"}],"mark":{"type":"line","color":"black","strokeWidth":0.7,"clip":true},"encoding":{}}
    ]}
  ],"spacing":12}
 ],"spacing":3}
],"spacing":9}
],
"spacing":15
}
